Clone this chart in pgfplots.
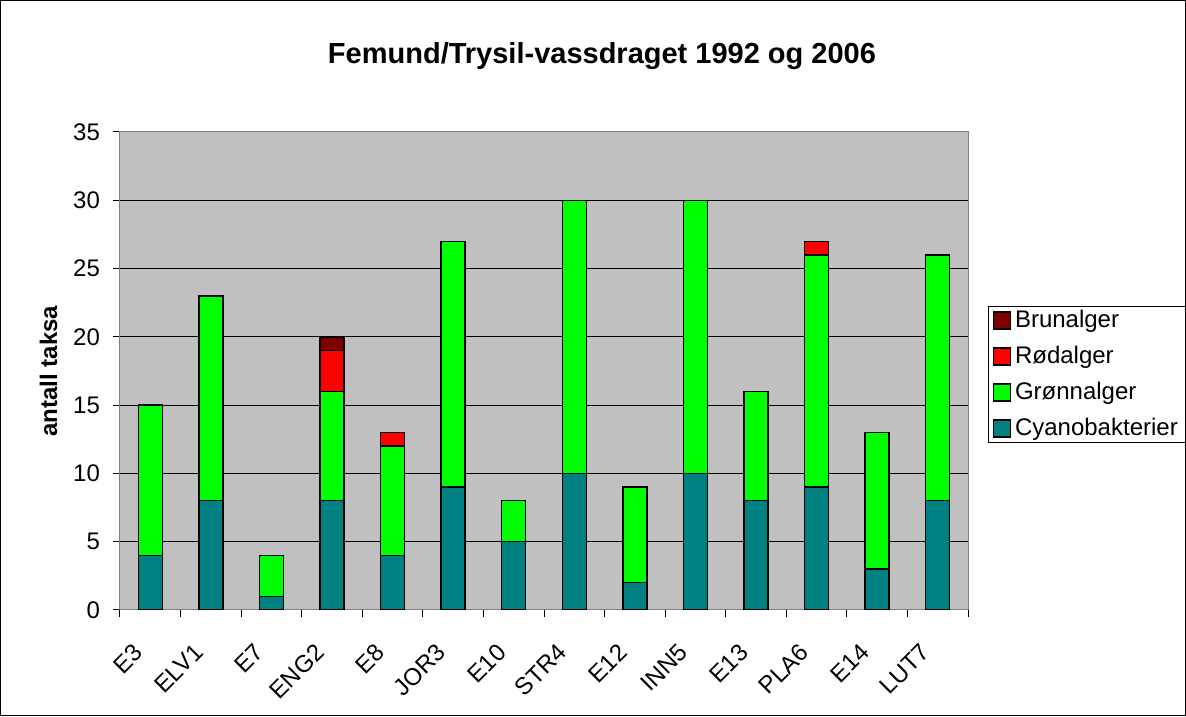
\documentclass[border=0pt]{standalone}
\usepackage{fontspec}
\setmainfont{Liberation Sans}
\usepackage{pgfplots}
\usepackage{pgfplotstable}
\pgfplotsset{compat=1.18}
\definecolor{cyano}{HTML}{008080}
\definecolor{gron}{HTML}{00FF00}
\definecolor{rod}{HTML}{FF0000}
\definecolor{brun}{HTML}{800000}
\definecolor{plotbg}{HTML}{C0C0C0}
\definecolor{boxgray}{HTML}{808080}
\pgfplotstableread{
name cyano green red brown
E3 4 11 0 0
ELV1 8 15 0 0
E7 1 3 0 0
ENG2 8 8 3 1
E8 4 8 1 0
JOR3 9 18 0 0
E10 5 3 0 0
STR4 10 20 0 0
E12 2 7 0 0
INN5 10 20 0 0
E13 8 8 0 0
PLA6 9 17 1 0
E14 3 10 0 0
LUT7 8 18 0 0
}\data
\begin{document}
\begin{tikzpicture}
\useasboundingbox (-60pt,-53pt) rectangle (533pt,305pt);
\draw[line width=0.5pt] (-59.75pt,-52.75pt) rectangle (532.75pt,304.75pt);
\begin{axis}[
  at={(0pt,0pt)}, anchor=south west,
  scale only axis, width=424pt, height=239pt,
  xmin=-0.5, xmax=13.5, ymin=0, ymax=35,
  ybar stacked, bar width=12pt,
  axis background/.style={fill=plotbg},
  ytick={0,5,...,35},
  xtick={0,...,13},
  xticklabels={E3,ELV1,E7,ENG2,E8,JOR3,E10,STR4,E12,INN5,E13,PLA6,E14,LUT7},
  major x tick style={draw=none},
  minor xtick={-0.5,0.5,...,13.5},
  xtick pos=bottom, ytick pos=left,
  tick align=outside,
  major tick length=3.5pt, minor tick length=3.5pt,
  tick style={black, line width=0.5pt},
  ymajorgrids, grid style={black, line width=0.5pt},
  axis line style={draw=boxgray, line width=0.5pt},
  xticklabel style={xshift=-9pt, yshift=-11pt, rotate=45, anchor=north east, inner sep=1pt},
  yticklabel style={xshift=-3pt},
  ticklabel style={font=\fontsize{12}{14}\selectfont},
  /pgf/number format/assume math mode=true,
  legend style={at={(1.0236,0.636)}, anchor=north west, draw=black, line width=0.5pt,
    font=\fontsize{12}{14}\selectfont, row sep=3.8pt, inner xsep=2pt, inner ysep=0pt},
  legend cell align=left,
  reverse legend,
  legend image code/.code={\draw[#1, line width=0.75pt] (0pt,-4.25pt) rectangle (8.5pt,4.25pt);},
  every axis plot/.append style={draw=black, line width=0.75pt},
]
\addplot[fill=cyano] table[x expr=\coordindex, y=cyano] {\data};
\addplot[fill=gron] table[x expr=\coordindex, y=green] {\data};
\addplot[fill=rod] table[x expr=\coordindex, y=red] {\data};
\addplot[fill=brun] table[x expr=\coordindex, y=brown] {\data};
\legend{Cyanobakterier, Grønnalger, Rødalger, Brunalger}
\end{axis}
\node[anchor=base, font=\bfseries\fontsize{14.5}{17}\selectfont] at (241pt,273pt) {Femund/Trysil-vassdraget 1992 og 2006};
\node[rotate=90, anchor=base, font=\bfseries\fontsize{12}{14}\selectfont] at (-31.5pt,119.5pt) {antall taksa};
\end{tikzpicture}
\end{document}
